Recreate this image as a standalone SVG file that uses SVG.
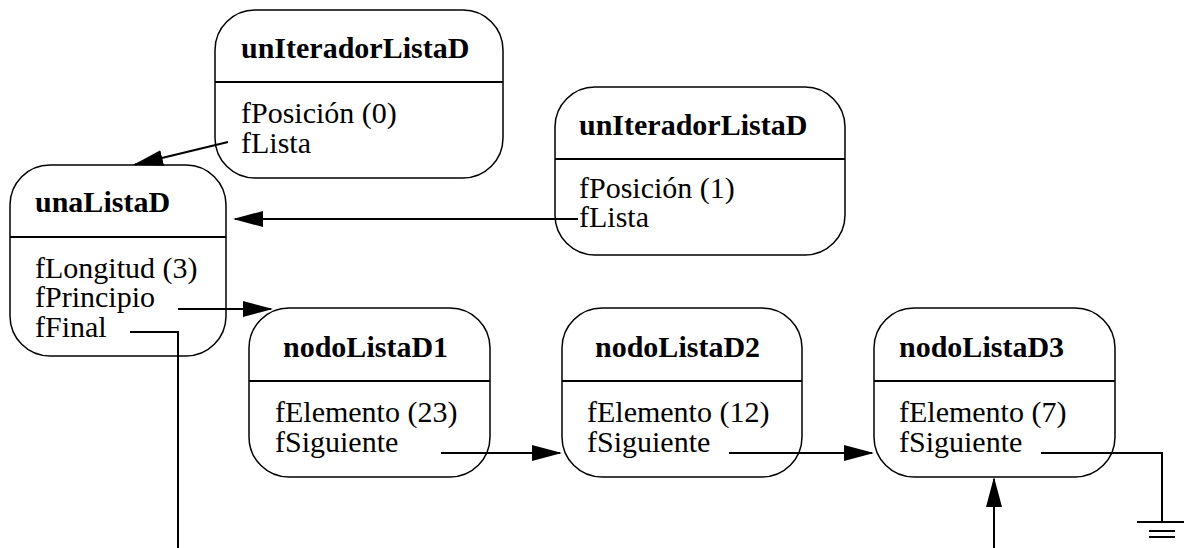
<svg xmlns="http://www.w3.org/2000/svg" width="1184" height="548" viewBox="0 0 1184 548">
<style>
.box{fill:#fff;stroke:#000;stroke-width:1.5}
.div{stroke:#000;stroke-width:2}
.c{fill:none;stroke:#000;stroke-width:2}
</style>
<defs>
<marker id="ah" markerUnits="userSpaceOnUse" markerWidth="30" markerHeight="16" refX="28" refY="8" orient="auto">
<path d="M0,0 L30,8 L0,16 z" fill="#000"/>
</marker>
</defs>
<rect width="1184" height="548" fill="#fff"/>
<g id="unIteradorListaD0">
<rect class="box" x="215" y="10" width="288" height="168" rx="40" ry="40"/>
<line class="div" x1="215" y1="82" x2="503" y2="82"/>
<text x="241" y="58" font-family="Liberation Serif" font-size="30" font-weight="bold">unIteradorListaD</text>
<text x="241" y="123" font-family="Liberation Serif" font-size="30">fPosición (0)</text>
<text x="241" y="153" font-family="Liberation Serif" font-size="30">fLista</text>
</g>
<g id="unIteradorListaD1">
<rect class="box" x="555" y="87" width="290" height="168" rx="40" ry="40"/>
<line class="div" x1="555" y1="159" x2="845" y2="159"/>
<text x="579" y="135" font-family="Liberation Serif" font-size="30" font-weight="bold">unIteradorListaD</text>
<text x="579" y="198" font-family="Liberation Serif" font-size="30">fPosición (1)</text>
<text x="579" y="227" font-family="Liberation Serif" font-size="30">fLista</text>
</g>
<g id="unaListaD">
<rect class="box" x="10" y="165" width="216" height="191" rx="40" ry="40"/>
<line class="div" x1="10" y1="237" x2="226" y2="237"/>
<text x="35" y="212" font-family="Liberation Serif" font-size="30" font-weight="bold">unaListaD</text>
<text x="35" y="278" font-family="Liberation Serif" font-size="30">fLongitud (3)</text>
<text x="35" y="307" font-family="Liberation Serif" font-size="30">fPrincipio</text>
<text x="35" y="337" font-family="Liberation Serif" font-size="30">fFinal</text>
</g>
<g id="nodoListaD1">
<rect class="box" x="249" y="308" width="241" height="169" rx="40" ry="40"/>
<line class="div" x1="249" y1="381" x2="490" y2="381"/>
<text x="283" y="357" font-family="Liberation Serif" font-size="30" font-weight="bold">nodoListaD1</text>
<text x="275" y="422" font-family="Liberation Serif" font-size="30">fElemento (23)</text>
<text x="275" y="452" font-family="Liberation Serif" font-size="30">fSiguiente</text>
</g>
<g id="nodoListaD2">
<rect class="box" x="562" y="308" width="240" height="169" rx="40" ry="40"/>
<line class="div" x1="562" y1="381" x2="802" y2="381"/>
<text x="595" y="357" font-family="Liberation Serif" font-size="30" font-weight="bold">nodoListaD2</text>
<text x="587" y="422" font-family="Liberation Serif" font-size="30">fElemento (12)</text>
<text x="587" y="452" font-family="Liberation Serif" font-size="30">fSiguiente</text>
</g>
<g id="nodoListaD3">
<rect class="box" x="874" y="308" width="241" height="169" rx="40" ry="40"/>
<line class="div" x1="874" y1="381" x2="1115" y2="381"/>
<text x="899" y="357" font-family="Liberation Serif" font-size="30" font-weight="bold">nodoListaD3</text>
<text x="899" y="422" font-family="Liberation Serif" font-size="30">fElemento (7)</text>
<text x="899" y="452" font-family="Liberation Serif" font-size="30">fSiguiente</text>
</g>
<g id="connectors">
<line class="c" x1="228" y1="142" x2="135" y2="164.5" marker-end="url(#ah)"/>
<line class="c" x1="578" y1="219" x2="235" y2="219" marker-end="url(#ah)"/>
<line class="c" x1="178" y1="309" x2="271" y2="309" marker-end="url(#ah)"/>
<polyline class="c" points="130,332 178,332 178,548"/>
<line class="c" x1="441" y1="453" x2="560" y2="453" marker-end="url(#ah)"/>
<line class="c" x1="729" y1="453" x2="872" y2="453" marker-end="url(#ah)"/>
<polyline class="c" points="1041,453 1162,453 1162,522"/>
<line class="c" x1="1137" y1="522" x2="1187" y2="522"/>
<line class="c" x1="1149" y1="531" x2="1175" y2="531"/>
<line class="c" x1="1149" y1="537" x2="1175" y2="537"/>
<line class="c" x1="994" y1="548" x2="994" y2="479" marker-end="url(#ah)"/>
</g>
</svg>
